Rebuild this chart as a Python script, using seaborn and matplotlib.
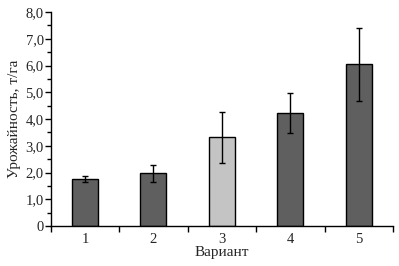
import matplotlib
matplotlib.use("Agg")
import matplotlib.pyplot as plt
import seaborn as sns
import pandas as pd
import numpy as np

variants = ["1", "2", "3", "4", "5"]
yield_mean = [1.75, 1.98, 3.32, 4.21, 6.04]
yield_err = [0.12, 0.32, 0.96, 0.75, 1.35]
bar_colors = ["#5f5f5f", "#5f5f5f", "#c4c4c4", "#5f5f5f", "#5f5f5f"]
y_ticks = [0, 1, 2, 3, 4, 5, 6, 7, 8]
y_tick_labels = ["0", "1,0", "2,0", "3,0", "4,0", "5,0", "6,0", "7,0", "8,0"]

df = pd.DataFrame({"Вариант": variants, "Урожайность": yield_mean})

sns.set_style("ticks")
plt.rcParams["font.family"] = ["Liberation Serif", "DejaVu Serif"]

fig = plt.figure(figsize=(3.99, 2.66), dpi=100)
ax = fig.add_axes([0.127, 0.150, 0.858, 0.805])

sns.barplot(data=df, x="Вариант", y="Урожайность", hue="Вариант",
            palette=bar_colors, legend=False, errorbar=None,
            width=0.38, edgecolor="black", linewidth=1.0, saturation=1, ax=ax)
ax.errorbar(np.arange(len(variants)), yield_mean, yerr=yield_err, fmt="none",
            ecolor="black", elinewidth=1.0, capsize=2, capthick=1.0)

ax.set_xlim(-0.5, len(variants) - 0.5)
ax.set_ylim(0, 8)
ax.set_yticks(y_ticks)
ax.set_yticklabels(y_tick_labels, fontsize=10.5)
ax.set_yticks(np.arange(0.5, 8, 1.0), minor=True)
ax.set_xticks(np.arange(-0.5, len(variants), 1.0))
ax.set_xticklabels([])
ax.set_xticks(np.arange(len(variants)), minor=True)
ax.set_xticklabels(variants, minor=True, fontsize=10.5)
ax.tick_params(axis="x", which="minor", length=0, pad=5)
ax.tick_params(axis="both", which="major", length=4, width=1, direction="out", color="black")
ax.tick_params(axis="y", which="minor", length=3, width=1, color="black")
ax.tick_params(axis="y", which="major", pad=1)
ax.set_xlabel("Вариант", fontsize=11, labelpad=0)
ax.set_ylabel("Урожайность, т/га", fontsize=11, labelpad=3)
for s in ["top", "right"]:
    ax.spines[s].set_visible(False)
for s in ["left", "bottom"]:
    ax.spines[s].set_linewidth(1.0)
    ax.spines[s].set_color("black")

fig.savefig("out.png", dpi=100)
